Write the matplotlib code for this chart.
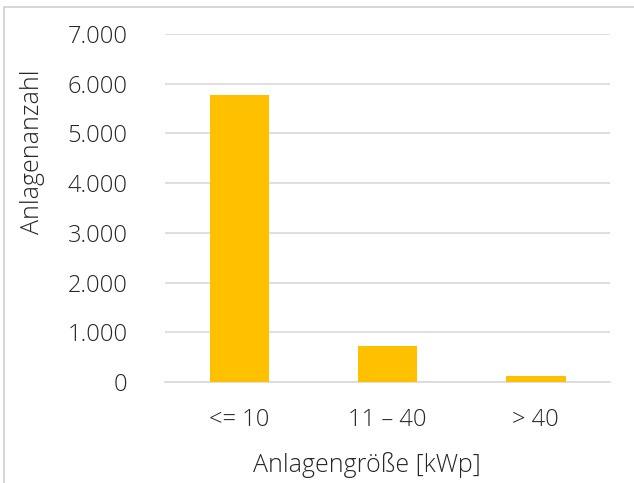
import matplotlib.pyplot as plt
from matplotlib.patches import Rectangle
from matplotlib.ticker import FuncFormatter

categories = ["<= 10", "11 \u2013 40", "> 40"]
counts = [5780, 725, 120]
yticks = [0, 1000, 2000, 3000, 4000, 5000, 6000, 7000]

plt.rcParams['font.family'] = ['Open Sans', 'DejaVu Sans']

W, H = 634, 483
fig = plt.figure(figsize=(W / 100, H / 100), dpi=100)
ax = fig.add_axes([165 / W, 1 - 382 / H, 445 / W, (382 - 34) / H])

x = list(range(len(categories)))
ax.bar(x, counts, width=0.4, color="#FFC000", zorder=3)
ax.set_xlim(-0.5, 2.5)
ax.set_ylim(0, 7000)
ax.set_yticks(yticks)
ax.yaxis.set_major_formatter(FuncFormatter(lambda v, p: f"{int(v):,}".replace(",", ".")))
ax.set_xticks(x)
ax.set_xticklabels(categories)
ax.grid(axis="y", color="#D9D9D9", lw=1.2, zorder=0)
for s in ["top", "right", "left"]:
    ax.spines[s].set_visible(False)
ax.spines["bottom"].set_color("#D9D9D9")
ax.spines["bottom"].set_linewidth(1.2)
ax.tick_params(length=0, labelsize=17, colors="#262626")
ax.tick_params(axis="y", pad=27)
ax.tick_params(axis="x", pad=19)
for t in ax.get_yticklabels() + ax.get_xticklabels():
    t.set_fontweight("light")

fig.text(33 / W, 1 - 152 / H, "Anlagenanzahl", rotation=90, ha="center", va="center",
         fontsize=18, color="#262626", fontweight="light")
fig.text(367 / W, 1 - 465 / H, "Anlagengröße [kWp]", ha="center", va="center",
         fontsize=18, color="#262626", fontweight="light")

fig.patches.append(Rectangle((4 / W, -0.1), 1.2, 1 - 7 / H + 0.1, transform=fig.transFigure,
                             fill=False, edgecolor="#D0D0D0", lw=1.2))

fig.savefig("out.png", dpi=100)
